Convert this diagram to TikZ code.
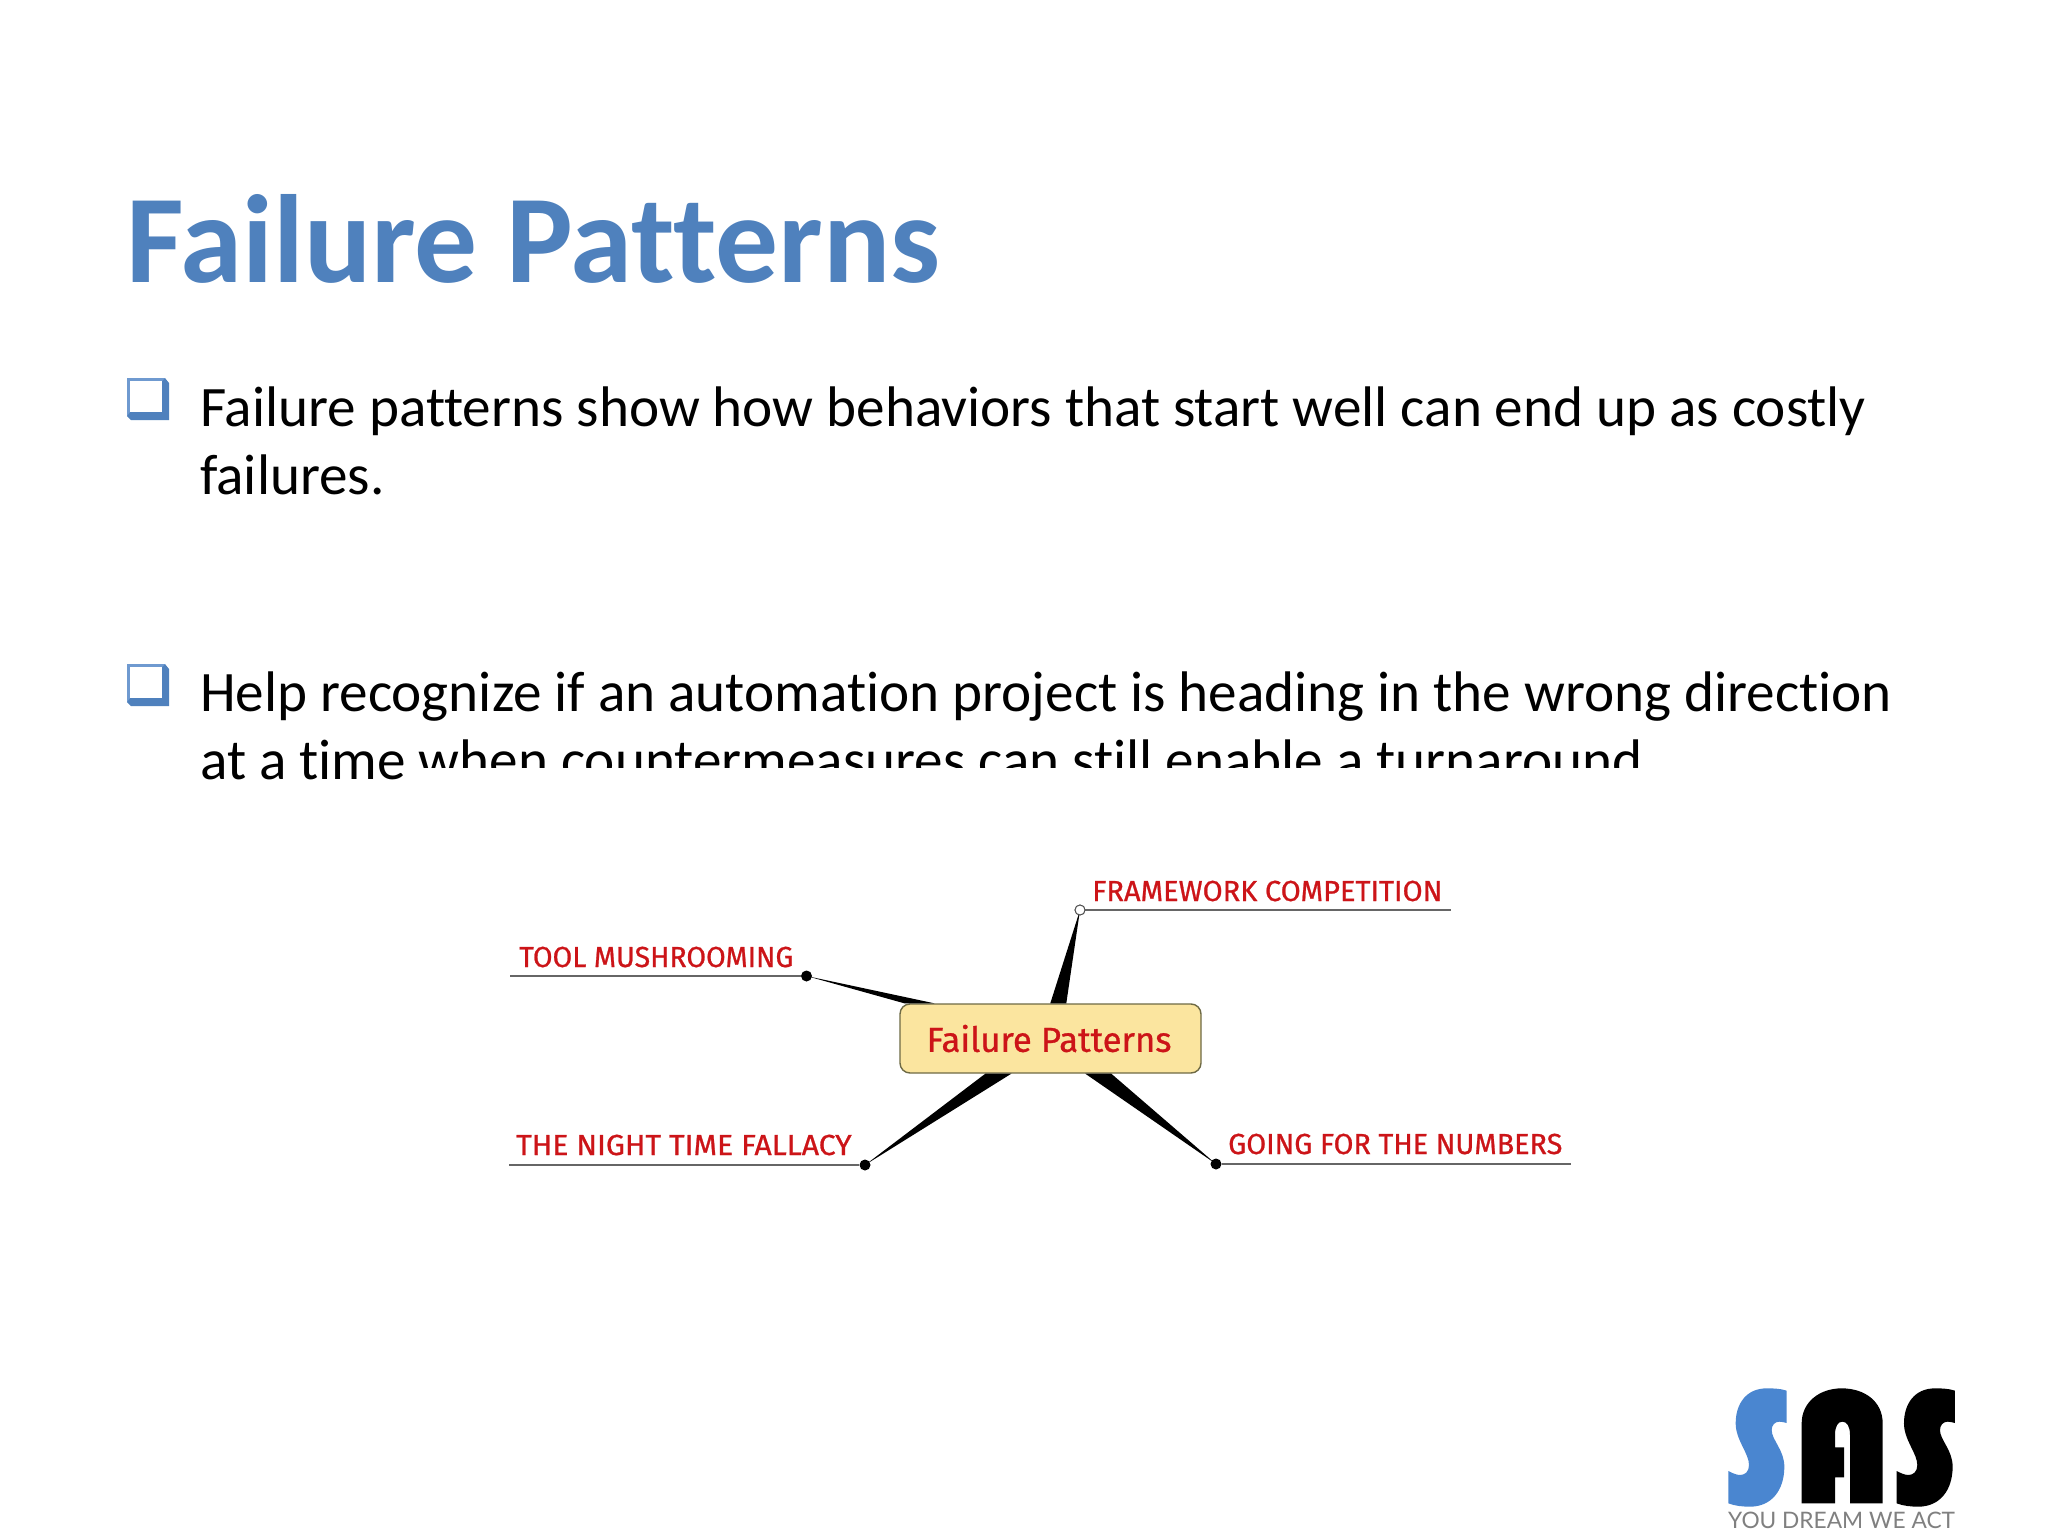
\documentclass[tikz,border=0pt]{standalone}
\usepackage{fontspec}
\usetikzlibrary{calc}
\setmainfont[Ligatures=CommonOff]{Carlito}
\newfontfamily\mapfont[FakeBold=0.8]{Fira Sans}
\newfontfamily\tagfont{Lato}
\definecolor{slideblue}{HTML}{4F81BD}
\definecolor{bulletlight}{HTML}{6F9AD0}
\definecolor{logoblue}{HTML}{4A86D0}
\definecolor{taggrey}{HTML}{808080}
\definecolor{mapred}{HTML}{CC1418}
\definecolor{boxfill}{HTML}{FBE59F}
\definecolor{boxedge}{HTML}{6E6A45}
\definecolor{rulegrey}{HTML}{666666}
\newcommand{\sasS}{(260,92) .. controls (240,85) and (215,85) .. (200,85) .. controls (140,85) and (107,130) .. (107,190) .. controls (107,240) and (147,280) .. (147,315) .. controls (147,335) and (135,345) .. (120,345) .. controls (108,345) and (95,338) .. (85,333) -- (85,430) .. controls (105,438) and (130,440) .. (150,440) .. controls (215,440) and (253,390) .. (253,320) .. controls (253,270) and (215,240) .. (215,210) .. controls (215,195) and (225,185) .. (238,185) .. controls (245,185) and (253,187) .. (260,189) -- cycle}
\tikzset{
  bodytext/.style={anchor=base west,inner sep=0pt,font=\fontsize{57.2}{68}\selectfont,text=black},
  titletext/.style={anchor=base west,inner sep=0pt,font=\fontsize{125.5}{150}\selectfont\bfseries,text=slideblue},
  maplabel/.style={anchor=base west,inner sep=0pt,font=\mapfont\fontsize{29}{35}\selectfont,text=mapred},
  centerbox/.style={draw=boxedge,line width=1.4pt,fill=boxfill,rounded corners=10pt,minimum width=301pt,minimum height=69pt,inner sep=0pt,font=\mapfont\fontsize{34.7}{41}\selectfont,text=mapred},
  solidend/.style={circle,fill=black,inner sep=0pt,minimum size=11pt},
  openend/.style={circle,draw=black!70,line width=0.9pt,fill=white,inner sep=0pt,minimum size=10pt},
  underline/.style={draw=rulegrey,line width=2pt},
  spike/.style={fill=black}
}
\begin{document}
\begin{tikzpicture}[x=1pt,y=-1pt]
\useasboundingbox (0,0) rectangle (2048,1536);
\fill[white] (0,0) rectangle (2048,1536);
% title and text
\node[titletext] (title) at (126,282) {Failure Patterns};
\foreach \yy in {0,286}{
  \fill[slideblue] (127,378+\yy) -- (165,378+\yy) -- (169,383+\yy) -- (169,420+\yy) -- (131,420+\yy) -- (127,416+\yy) -- cycle;
  \fill[bulletlight] (127,378+\yy) -- (165,378+\yy) -- (162,381+\yy) -- (130,381+\yy) -- (130,412+\yy) -- (127,416+\yy) -- cycle;
  \fill[white] (130,381+\yy) rectangle (162,412+\yy);
}
\node[bodytext] (b1a) at (200,426.3) {Failure patterns show how behaviors that start well can end up as costly};
\node[bodytext] (b1b) at (200,494.3) {failures.};
\node[bodytext] (b2a) at (200,711.3) {Help recognize if an automation project is heading in the wrong direction};
\node[bodytext] (b2b) at (200,779.3) {at a time when countermeasures can still enable a turnaround};
\fill[white] (414,768) rectangle (1660,800);
% mind map
\node[centerbox] (hub) at (1050.5,1038.5) {\hspace*{-3pt}Failure Patterns};
\node[openend] (dfw) at (1080,910) {};
\node[solidend] (dtm) at (806.5,976) {};
\node[solidend] (dnt) at (865,1165) {};
\node[solidend] (dgn) at (1216,1164) {};
\coordinate (efw) at (1451,910);
\coordinate (etm) at (510,976);
\coordinate (ent) at (509,1165);
\coordinate (egn) at (1571,1164);
\draw[underline] (dfw) -- (efw);
\draw[underline] (dtm) -- (etm);
\draw[underline] (dnt) -- (ent);
\draw[underline] (dgn) -- (egn);
\fill[spike] (dfw.center) -- ($(hub.north west)+(151,0)$) -- ($(hub.north west)+(167,0)$) -- cycle;
\fill[spike] (dtm.center) -- ($(hub.north west)+(5,0)$) -- ($(hub.north west)+(35,0)$) -- cycle;
\fill[spike] (dnt.center) -- ($(hub.south west)+(86,0)$) -- ($(hub.south west)+(112,0)$) -- cycle;
\fill[spike] (dgn.center) -- ($(hub.south west)+(186,0)$) -- ($(hub.south west)+(212,0)$) -- cycle;
\node[openend] at (dfw) {};
\node[maplabel] (lfw) at (1092,901) {FRAMEWORK COMPETITION};
\node[maplabel] (ltm) at (519,967) {\scalebox{0.98}[1]{TOOL MUSHROOMING}};
\node[maplabel] (lnt) at (516,1155) {\scalebox{1.04}[1]{THE NIGHT TIME FALLACY}};
\node[maplabel] (lgn) at (1228,1154) {\scalebox{0.99}[1]{GOING FOR THE NUMBERS}};
% logo
\begin{scope}[shift={(1700,1360)},x=0.33333pt,y=-0.33333pt]
  \fill[logoblue] \sasS;
  \fill[black] (305,430) -- (305,190) .. controls (305,125) and (360,85) .. (425,85) .. controls (495,85) and (548,125) .. (548,190) -- (548,430) -- (450,430) -- (450,225) .. controls (450,198) and (440,185) .. (427,185) .. controls (414,185) and (405,198) .. (405,225) -- (405,262) -- (432,262) -- (432,352) -- (405,352) -- (405,430) -- cycle;
  \begin{scope}[xshift=168.3pt]
    \fill[black] \sasS;
  \end{scope}
\end{scope}
\node[anchor=base west,inner sep=0pt,font=\tagfont\fontsize{22.7}{27}\selectfont,text=taggrey] (tag) at (1728,1528) {YOU DREAM WE ACT};
\end{tikzpicture}
\end{document}
